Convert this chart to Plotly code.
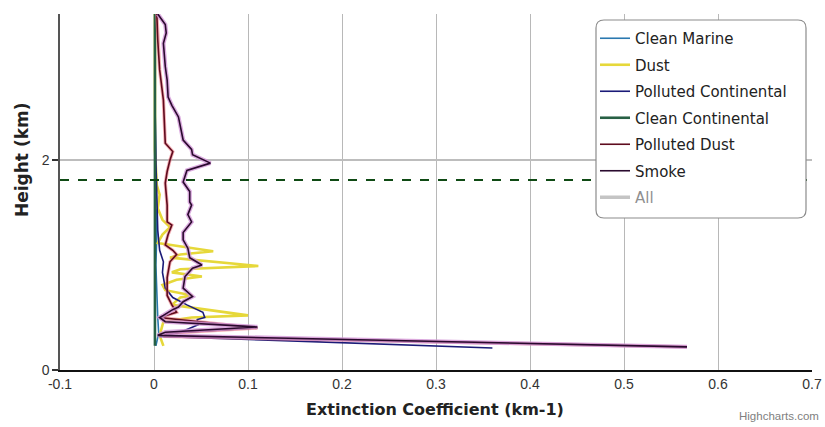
import plotly.graph_objects as go

# Extinction profiles per aerosol type: height (km) and extinction (km-1)
smoke_h = [3.39, 3.29, 3.21, 3.11, 2.89, 2.76, 2.60, 2.52, 2.41, 2.19, 2.10, 2.05, 1.97, 1.93,
           1.90, 1.79, 1.70, 1.60, 1.57, 1.48, 1.41, 1.31, 1.24, 1.16, 1.07, 1.00, 0.97, 0.89,
           0.78, 0.70, 0.65, 0.60, 0.57, 0.52, 0.50, 0.46, 0.41, 0.36, 0.33, 0.22]
smoke_x = [0.004, 0.012, 0.013, 0.010, 0.012, 0.014, 0.015, 0.019, 0.026, 0.031, 0.040, 0.041,
           0.060, 0.046, 0.035, 0.031, 0.038, 0.038, 0.040, 0.036, 0.040, 0.031, 0.031, 0.036,
           0.038, 0.051, 0.041, 0.033, 0.031, 0.041, 0.031, 0.026, 0.019, 0.010, 0.006, 0.012,
           0.110, 0.012, 0.004, 0.567]

pdust_h = [3.39, 3.14, 2.86, 2.57, 2.16, 2.08, 2.00, 1.89, 1.78, 1.57, 1.41, 1.38, 1.29, 1.19,
           1.14, 1.10, 1.03, 0.88, 0.71, 0.62, 0.55, 0.50, 0.40, 0.35, 0.32, 0.22]
pdust_x = [0.003, 0.004, 0.006, 0.010, 0.012, 0.020, 0.017, 0.014, 0.012, 0.014, 0.014, 0.019,
           0.015, 0.012, 0.020, 0.024, 0.017, 0.014, 0.014, 0.019, 0.024, 0.006, 0.110, 0.014,
           0.010, 0.567]

pcont_h = [3.39, 2.57, 2.00, 1.62, 1.33, 1.14, 1.03, 0.93, 0.78, 0.69, 0.62, 0.55, 0.50, 0.48,
           0.43, 0.36, 0.32, 0.21]
pcont_x = [0.001, 0.001, 0.002, 0.003, 0.004, 0.006, 0.010, 0.009, 0.012, 0.020, 0.035, 0.052,
           0.054, 0.046, 0.047, 0.028, 0.006, 0.360]

dust_h = [3.39, 2.10, 1.76, 1.67, 1.54, 1.43, 1.36, 1.29, 1.21, 1.13, 1.10, 1.07, 0.99, 0.96,
          0.93, 0.89, 0.86, 0.81, 0.76, 0.71, 0.69, 0.62, 0.52, 0.50, 0.46, 0.33, 0.23]
dust_x = [0.001, 0.001, 0.003, 0.006, 0.004, 0.009, 0.017, 0.009, 0.004, 0.063, 0.028, 0.017,
          0.111, 0.028, 0.019, 0.051, 0.024, 0.009, 0.012, 0.041, 0.028, 0.019, 0.100, 0.040,
          0.010, 0.006, 0.010]

cmarine_h = [3.39, 2.60, 2.00, 1.90, 1.60, 1.30, 1.00, 0.70, 0.50, 0.35, 0.26, 0.23]
cmarine_x = [0.001, 0.001, 0.002, 0.001, 0.002, 0.003, 0.002, 0.003, 0.004, 0.005, 0.003, 0.002]

ccont_h = [3.39, 2.50, 1.50, 0.80, 0.40, 0.23]
ccont_x = [0.001, 0.001, 0.001, 0.001, 0.001, 0.001]

cloud_top_km = 1.81

series = [
    ("Clean Marine", cmarine_x, cmarine_h, "#2a78b0", 1.6),
    ("Dust", dust_x, dust_h, "#e6d83a", 2.6),
    ("Polluted Continental", pcont_x, pcont_h, "#1b1b78", 1.6),
    ("Clean Continental", ccont_x, ccont_h, "#276044", 2.6),
    ("Polluted Dust", pdust_x, pdust_h, "#5e0b1e", 1.6),
    ("Smoke", smoke_x, smoke_h, "#2a0a2e", 1.6),
]

fig = go.Figure()

for name, xs, hs, color, w in series:
    if name == "Smoke":
        fig.add_trace(go.Scatter(x=xs, y=hs, mode="lines", showlegend=False, hoverinfo="skip",
                                 line=dict(color="rgba(210,150,215,0.8)", width=4.2)))
    if name == "Polluted Dust":
        fig.add_trace(go.Scatter(x=xs, y=hs, mode="lines", showlegend=False, hoverinfo="skip",
                                 line=dict(color="rgba(235,120,130,0.6)", width=3.4)))
    fig.add_trace(go.Scatter(x=xs, y=hs, mode="lines", name=name, legendgroup=name,
                             line=dict(color=color, width=w)))

fig.add_trace(go.Scatter(x=[None], y=[None], mode="lines", name="All", legendgroup="All",
                         visible="legendonly", line=dict(color="#8a8a8a", width=3.5)))

W, H = 825, 427
# plot area in pixels: left 60, right 812, top 14, bottom 370
L, R, T, B = 60, 812, 14, 370
def px(x):
    return (x - L) / (R - L)
def py(y):
    return (B - y) / (B - T)

# rounded legend frame
x0, x1, y0, y1, r = 596, 806, 20, 218, 8
rx, ry = r / (R - L), r / (B - T)
path = (f"M {px(x0)+rx},{py(y0)} L {px(x1)-rx},{py(y0)} Q {px(x1)},{py(y0)} {px(x1)},{py(y0)-ry} "
        f"L {px(x1)},{py(y1)+ry} Q {px(x1)},{py(y1)} {px(x1)-rx},{py(y1)} "
        f"L {px(x0)+rx},{py(y1)} Q {px(x0)},{py(y1)} {px(x0)},{py(y1)+ry} "
        f"L {px(x0)},{py(y0)-ry} Q {px(x0)},{py(y0)} {px(x0)+rx},{py(y0)} Z")

fig.update_layout(
    width=W, height=H,
    margin=dict(l=L, r=W - R, t=T, b=H - B, autoexpand=False),
    paper_bgcolor="white", plot_bgcolor="white",
    font=dict(family="DejaVu Sans", size=13, color="#333333"),
    xaxis=dict(range=[-0.1, 0.7], tickvals=[-0.1, 0, 0.1, 0.2, 0.3, 0.4, 0.5, 0.6, 0.7],
               ticktext=["-0.1", "0", "0.1", "0.2", "0.3", "0.4", "0.5", "0.6", "0.7"],
               showgrid=True, gridcolor="#b8b8b8", gridwidth=1, zeroline=False,
               showline=True, linecolor="#111111", linewidth=2, ticks="",
               tickfont=dict(family="Liberation Sans", size=14, color="#333333")),
    yaxis=dict(range=[0, 3.39], tickvals=[0, 2], showgrid=True, gridcolor="#bdbdbd", gridwidth=1.5,
               zeroline=False, showline=True, linecolor="#555555", linewidth=1.5,
               ticks="outside", ticklen=6, tickcolor="#333333", tickwidth=1.5,
               tickfont=dict(family="Liberation Sans", size=14, color="#333333")),
    shapes=[
        dict(type="line", xref="paper", yref="y", x0=0, x1=1, y0=cloud_top_km, y1=cloud_top_km,
             line=dict(color="#0f4a14", width=2, dash="dash"), layer="above"),
        dict(type="path", xref="paper", yref="paper", path=path, fillcolor="white",
             line=dict(color="#8c8c8c", width=1.2), layer="above"),
    ],
    legend=dict(xref="container", yref="container", x=595 / W, y=1 - 22 / H,
                xanchor="left", yanchor="top",
                bgcolor="rgba(0,0,0,0)", borderwidth=0, traceorder="grouped",
                tracegroupgap=4, itemwidth=30,
                font=dict(family="DejaVu Sans", size=15, color="#222222")),
    annotations=[
        dict(text="<b>Extinction Coefficient (km-1)</b>", xref="paper", yref="paper",
             x=px(435), y=py(409), xanchor="center", yanchor="middle", showarrow=False,
             font=dict(family="DejaVu Sans", size=16, color="#222222")),
        dict(text="<b>Height (km)</b>", xref="paper", yref="paper", textangle=-90,
             x=px(22), y=py(160), xanchor="center", yanchor="middle", showarrow=False,
             font=dict(family="DejaVu Sans", size=17, color="#222222")),
        dict(text="Highcharts.com", xref="paper", yref="paper",
             x=px(821), y=py(416), xanchor="right", yanchor="middle", showarrow=False,
             font=dict(family="Liberation Sans", size=11.5, color="#808080")),
    ],
)

fig.write_html("out.html")
